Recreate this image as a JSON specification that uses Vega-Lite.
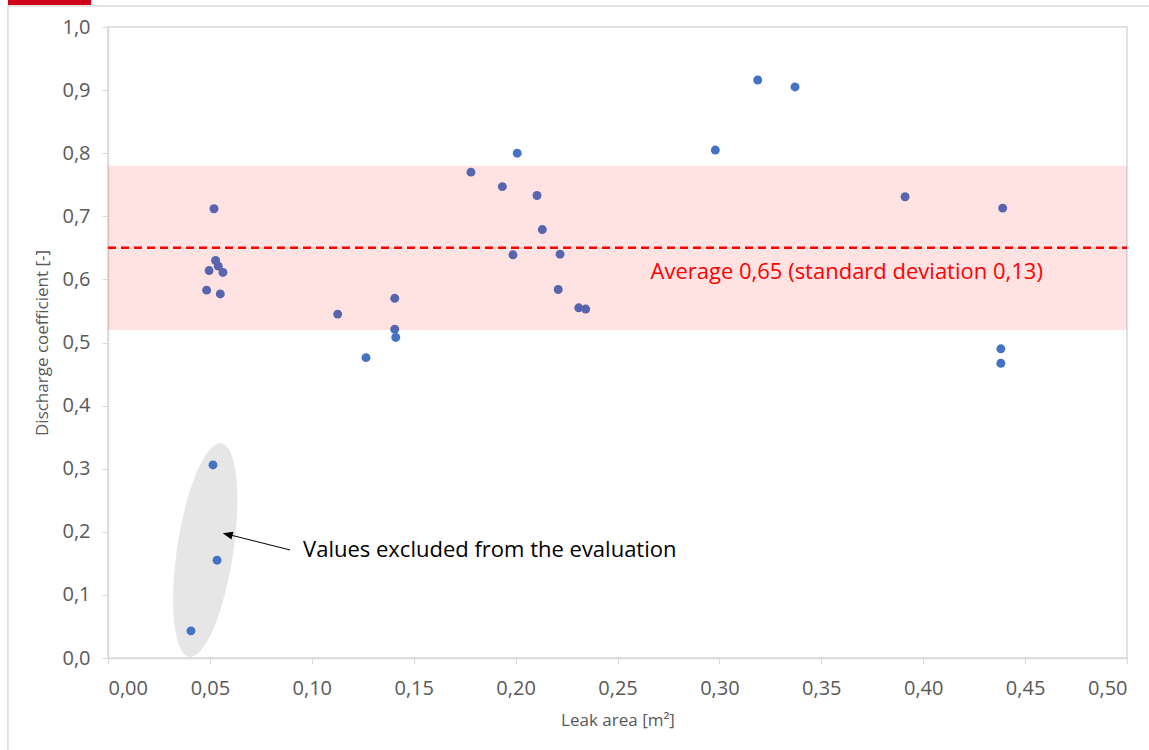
{
  "$schema": "https://vega.github.io/schema/vega-lite/v6.json",
  "autosize": {"type": "none"},
  "padding": {"left": 108, "top": 27, "right": 22, "bottom": 92},
  "width": 1019,
  "height": 631,
  "background": "white",
  "config": {
    "view": {"stroke": "#d9d9d9", "strokeWidth": 1.5},
    "axis": {
      "grid": false,
      "domainColor": "#d9d9d9",
      "domainWidth": 1.5,
      "tickColor": "#d9d9d9",
      "tickSize": 6,
      "labelFont": "Open Sans",
      "labelFontSize": 20,
      "labelColor": "#595959",
      "titleFont": "Open Sans",
      "titleFontSize": 17,
      "titleFontWeight": "normal",
      "titleColor": "#595959"
    }
  },
  "data": {
    "values": [
      {"area": 0.0515, "cd": 0.306},
      {"area": 0.0535, "cd": 0.155},
      {"area": 0.0407, "cd": 0.043},
      {"area": 0.0520, "cd": 0.712},
      {"area": 0.0528, "cd": 0.630},
      {"area": 0.0541, "cd": 0.621},
      {"area": 0.0496, "cd": 0.614},
      {"area": 0.0564, "cd": 0.611},
      {"area": 0.0484, "cd": 0.583},
      {"area": 0.0551, "cd": 0.577},
      {"area": 0.1127, "cd": 0.545},
      {"area": 0.1266, "cd": 0.476},
      {"area": 0.1407, "cd": 0.570},
      {"area": 0.1407, "cd": 0.521},
      {"area": 0.1412, "cd": 0.508},
      {"area": 0.1781, "cd": 0.770},
      {"area": 0.1935, "cd": 0.747},
      {"area": 0.2008, "cd": 0.800},
      {"area": 0.2105, "cd": 0.733},
      {"area": 0.1987, "cd": 0.639},
      {"area": 0.2131, "cd": 0.679},
      {"area": 0.2218, "cd": 0.640},
      {"area": 0.2209, "cd": 0.584},
      {"area": 0.2310, "cd": 0.555},
      {"area": 0.2344, "cd": 0.553},
      {"area": 0.2980, "cd": 0.805},
      {"area": 0.3188, "cd": 0.916},
      {"area": 0.3371, "cd": 0.905},
      {"area": 0.3911, "cd": 0.731},
      {"area": 0.4390, "cd": 0.713},
      {"area": 0.4381, "cd": 0.490},
      {"area": 0.4381, "cd": 0.467}
    ]
  },
  "layer": [
    {
      "data": {"values": [{}]},
      "mark": {"type": "point", "filled": true, "shape": "M0,-1 A0.26,1 0 1,0 0,1 A0.26,1 0 1,0 0,-1 Z", "size": 46656, "angle": 8.6, "color": "#e6e6e6", "opacity": 1, "strokeWidth": 0},
      "encoding": {
        "x": {"datum": 0.0477, "type": "quantitative"},
        "y": {"datum": 0.171, "type": "quantitative"}
      }
    },
    {
      "mark": {"type": "circle", "size": 80, "color": "#4472c4", "opacity": 1},
      "encoding": {
        "x": {
          "field": "area", "type": "quantitative",
          "scale": {"domain": [0, 0.5], "nice": false, "zero": false},
          "axis": {
            "title": "Leak area [m²]",
            "values": [0, 0.05, 0.1, 0.15, 0.2, 0.25, 0.3, 0.35, 0.4, 0.45, 0.5],
            "labelExpr": "replace(format(datum.value, '.2f'), '.', ',')",
            "labelPadding": 14,
            "titlePadding": 14
          }
        },
        "y": {
          "field": "cd", "type": "quantitative",
          "scale": {"domain": [0, 1], "nice": false},
          "axis": {
            "title": "Discharge coefficient [-]",
            "values": [0, 0.1, 0.2, 0.3, 0.4, 0.5, 0.6, 0.7, 0.8, 0.9, 1.0],
            "labelExpr": "replace(format(datum.value, '.1f'), '.', ',')",
            "labelPadding": 12,
            "titlePadding": 10
          }
        }
      }
    },
    {
      "data": {"values": [{}]},
      "mark": {"type": "rect", "color": "#ff0000", "opacity": 0.11},
      "encoding": {
        "x": {"datum": 0, "type": "quantitative"},
        "x2": {"datum": 0.5},
        "y": {"datum": 0.52, "type": "quantitative"},
        "y2": {"datum": 0.78}
      }
    },
    {
      "data": {"values": [{}]},
      "mark": {"type": "rule", "color": "#ff0000", "strokeWidth": 2.5, "strokeDash": [8, 5]},
      "encoding": {
        "x": {"datum": 0, "type": "quantitative"},
        "x2": {"datum": 0.5},
        "y": {"datum": 0.65, "type": "quantitative"}
      }
    },
    {
      "data": {"values": [{"label": "Average 0,65 (standard deviation 0,13)"}]},
      "mark": {"type": "text", "align": "left", "baseline": "middle", "font": "Open Sans", "fontSize": 22, "color": "#ff0000"},
      "encoding": {
        "x": {"datum": 0.2662, "type": "quantitative"},
        "y": {"datum": 0.612, "type": "quantitative"},
        "text": {"field": "label"}
      }
    },
    {
      "data": {"values": [{}]},
      "mark": {"type": "rule", "color": "#000000", "strokeWidth": 1},
      "encoding": {
        "x": {"datum": 0.0893, "type": "quantitative"},
        "y": {"datum": 0.1712, "type": "quantitative"},
        "x2": {"datum": 0.0600},
        "y2": {"datum": 0.1950}
      }
    },
    {
      "data": {"values": [{}]},
      "mark": {"type": "point", "filled": true, "shape": "M0,0 L1,-0.4 L1,0.4 Z", "size": 400, "angle": 13.9, "color": "#000000", "opacity": 1, "strokeWidth": 0},
      "encoding": {
        "x": {"datum": 0.0563, "type": "quantitative"},
        "y": {"datum": 0.1976, "type": "quantitative"}
      }
    },
    {
      "data": {"values": [{"label": "Values excluded from the evaluation"}]},
      "mark": {"type": "text", "align": "left", "baseline": "middle", "font": "Open Sans", "fontSize": 22, "color": "#000000"},
      "encoding": {
        "x": {"datum": 0.0957, "type": "quantitative"},
        "y": {"datum": 0.1712, "type": "quantitative"},
        "text": {"field": "label"}
      }
    },
    {
      "data": {"values": [{}]},
      "mark": {"type": "rule", "color": "#d9d9d9", "strokeWidth": 1.5, "clip": false},
      "encoding": {
        "x": {"datum": -0.0491, "type": "quantitative"},
        "y": {"datum": 1.0333, "type": "quantitative"},
        "x2": {"datum": 0.5108},
        "y2": {"datum": 1.0333}
      }
    },
    {
      "data": {"values": [{}]},
      "mark": {"type": "rule", "color": "#d9d9d9", "strokeWidth": 1.5, "clip": false},
      "encoding": {
        "x": {"datum": -0.0491, "type": "quantitative"},
        "y": {"datum": 1.0333, "type": "quantitative"},
        "x2": {"datum": -0.0491},
        "y2": {"datum": -0.146}
      }
    },
    {
      "data": {"values": [{}]},
      "mark": {"type": "rect", "color": "#d0021b", "clip": false},
      "encoding": {
        "x": {"datum": -0.0491, "type": "quantitative"},
        "x2": {"datum": -0.0083},
        "y": {"datum": 1.0349, "type": "quantitative"},
        "y2": {"datum": 1.0428}
      }
    }
  ]
}
